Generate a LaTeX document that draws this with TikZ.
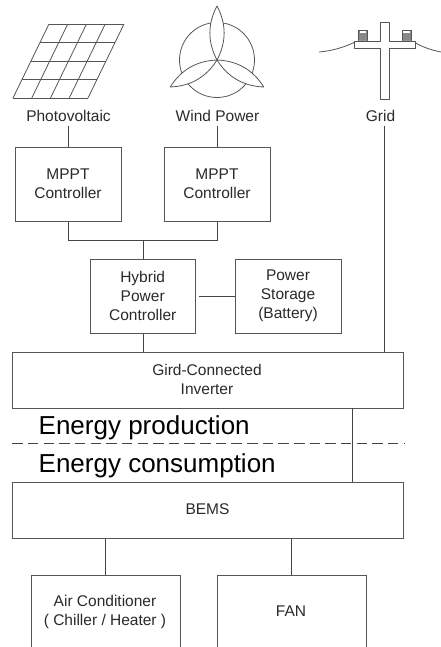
\documentclass[tikz,border=0pt]{standalone}
\usepackage{fontspec}
\setmainfont{Liberation Sans}
\definecolor{boxline}{HTML}{555555}
\definecolor{linecol}{HTML}{444444}
\definecolor{txt}{HTML}{2A2A2A}
\tikzset{
  box/.style={draw=boxline,line width=0.85pt,fill=white,inner sep=0pt},
  bigtxt/.style={font=\fontsize{26}{28}\selectfont,inner sep=0pt,anchor=base west,text=black},
  lbl/.style={font=\fontsize{15.5}{18.8}\selectfont,inner sep=0pt,align=center,text=txt},
  conn/.style={draw=linecol,line width=0.85pt},
  sketch/.style={draw=boxline,line width=0.8pt,line join=round},
  dashline/.style={draw=linecol,line width=0.7pt,dash pattern=on 10.5pt off 5.15pt}
}
\newcommand{\bx}[5]{\node[box,minimum width=#4pt,minimum height=#5pt] (#1) at (#2,#3) {};}
\begin{document}
\begin{tikzpicture}[x=1pt,y=-1pt]
\useasboundingbox (0,0) rectangle (441,647);
\clip (0,0) rectangle (441,647);
% photovoltaic panel
\foreach \i in {0,1,2,3,4}{
  \draw[sketch] ({49-\i*9},{24+\i*18.5}) -- ({124-\i*9},{24+\i*18.5});
  \draw[sketch] ({49+\i*18.75},24) -- ({13+\i*18.75},98);
}
% wind turbine
\coordinate (hub) at (217,60);
\draw[sketch] (hub) circle (37.5);
\foreach \a in {0,120,240}{
  \begin{scope}[shift={(217,60)},rotate=\a]
    \fill[white] (0,0) .. controls (-9.5,-18) and (-9.5,-36) .. (0,-54) .. controls (9.5,-36) and (9.5,-18) .. (0,0);
    \draw[sketch] (0,0) .. controls (-9.5,-18) and (-9.5,-36) .. (0,-54) .. controls (9.5,-36) and (9.5,-18) .. (0,0);
  \end{scope}
}
% grid pole
\draw[sketch] (319,52) .. controls (332,51) and (345,47) .. (355,42);
\draw[sketch] (414,42) .. controls (422,47) and (431,50) .. (441,52);
\fill[boxline!70] (359,31) rectangle (367,41);
\fill[boxline!70] (402,31) rectangle (411,41);
\fill[white] (360,31) rectangle (366,33.5);
\fill[white] (403,31) rectangle (410,33.5);
\draw[sketch] (358.5,30.5) rectangle (367.5,41);
\draw[sketch] (402,30.5) rectangle (411,41);
\draw[sketch,fill=white] (354,41) -- (380,41) -- (380,22) -- (389,22) -- (389,41) -- (415,41) -- (415,48) -- (389,48) -- (389,99) -- (380,99) -- (380,48) -- (354,48) -- cycle;
% labels
\node[lbl] (pv) at (68.5,116) {Photovoltaic};
\node[lbl] (wp) at (217.5,116) {Wind Power};
\node[lbl] (gr) at (380.5,116) {Grid};
\coordinate (pvb) at (68,126);
\coordinate (wpb) at (217,126);
\coordinate (grb) at (384.7,126);
% boxes
\bx{m1}{68.3}{184.6}{106}{74.6}
\bx{m2}{217.3}{184.6}{106}{74.6}
\bx{hy}{143}{296.5}{105.7}{74.4}
\bx{st}{288.7}{296.5}{106}{74.4}
\bx{inv}{208}{380.2}{391.4}{55.7}
\bx{be}{208}{510.7}{391.4}{56}
\bx{ac}{105.7}{625.7}{149.3}{100}
\bx{fa}{291.7}{625.7}{149.3}{100}
\node[lbl] at (68,184) {MPPT\\Controller};
\node[lbl] at (217,184) {MPPT\\Controller};
\node[lbl] at (142.7,295.7) {Hybrid\\Power\\Controller};
\node[lbl] at (288,295.7) {Power\\Storage\\(Battery)};
\node[lbl] at (207,379.5) {Gird-Connected\\Inverter};
\node[lbl] at (207.5,509) {BEMS};
\node[lbl] at (105,612) {Air Conditioner\\( Chiller / Heater )};
\node[lbl] at (291,611.5) {FAN};
% connectors
\coordinate (j1) at (143,240.5);
\coordinate (hg) at (198.7,296.5);
\draw[conn] (pvb) -- (m1.north -| pvb);
\draw[conn] (wpb) -- (m2.north -| wpb);
\draw[conn] (grb) -- (inv.north -| grb);
\draw[conn] (m1.south) -- (m1.south |- j1) -- (m2.south |- j1) -- (m2.south);
\draw[conn] (j1) -- (hy.north);
\draw[conn] (hg) -- (st.west);
\draw[conn] (hy.south) -- (hy.south |- inv.north);
\coordinate (c1) at (352.3,0);
\draw[conn] (inv.south -| c1) -- (be.north -| c1);
\draw[conn] (ac.north) -- (ac.north |- be.south);
\draw[conn] (fa.north) -- (fa.north |- be.south);
% divider
\coordinate (dl) at (12.3,443.7);
\coordinate (dr) at (403.7,443.7);
\draw[dashline] (dl) -- (dr);
\node[bigtxt] at (38.5,434) {Energy production};
\node[bigtxt] at (38.5,472) {Energy consumption};
\end{tikzpicture}
\end{document}
